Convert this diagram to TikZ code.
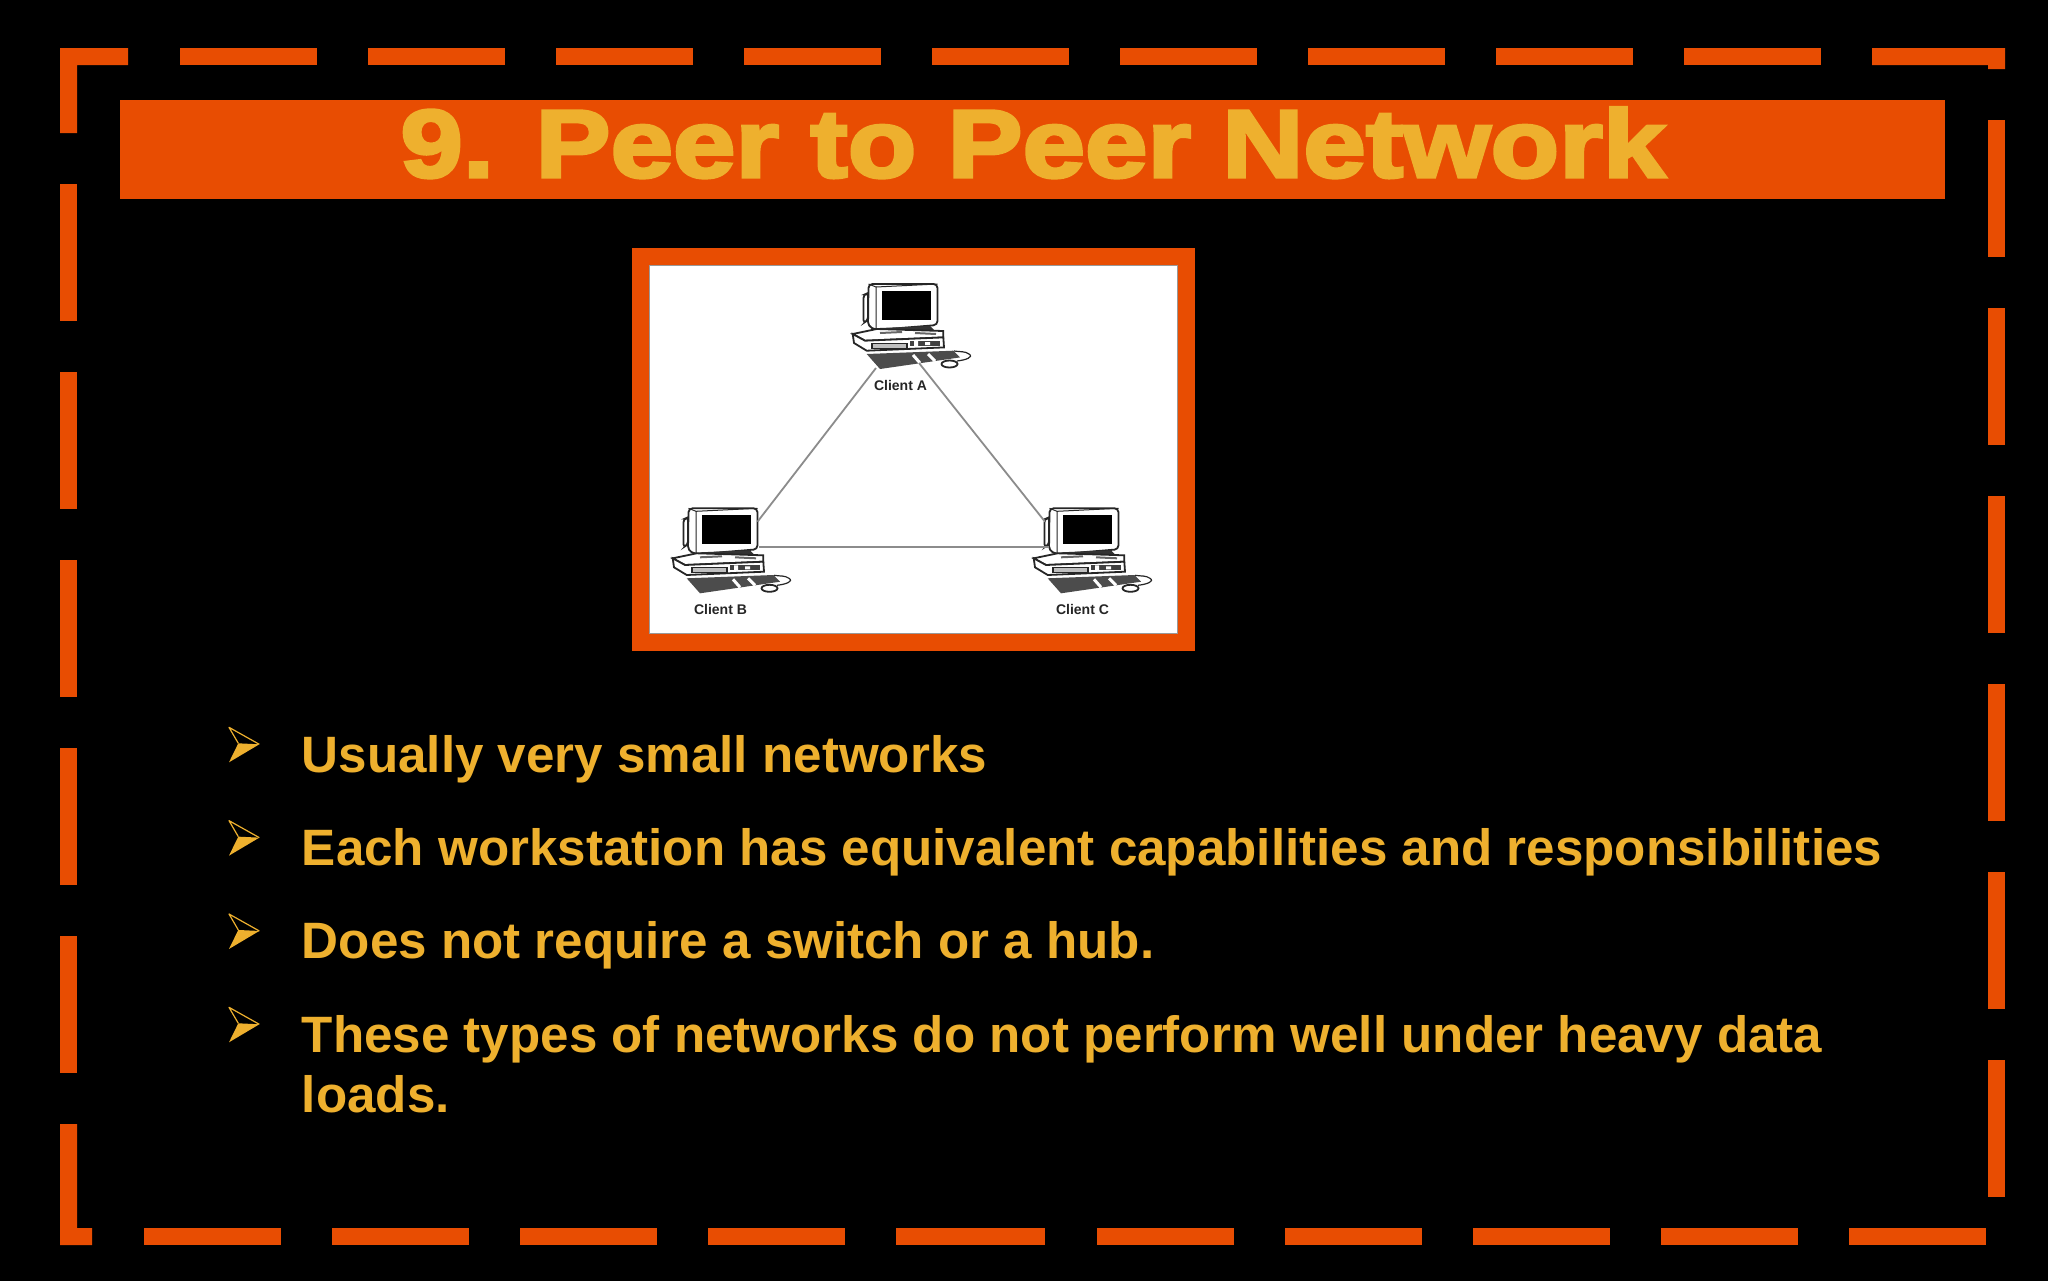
\documentclass[tikz,border=0pt]{standalone}
\usepackage{fontspec}
\setmainfont{Liberation Sans}
\newfontfamily\headfont[BoldFeatures={FakeBold=3.5,FakeStretch=1.17}]{Liberation Sans}
\definecolor{slideorange}{HTML}{E84D02}
\definecolor{slidegold}{HTML}{EEB02E}
\tikzset{
    computer/.pic={
        % monitor
        \draw[pcline,fill=white,rounded corners=1.5] (33.5,25) -- (38,23) -- (38,50) -- (33.5,53) -- cycle;
        \draw[pcline,fill=white,rounded corners=2] (38.5,14) -- (107.5,14) -- (107.5,55) -- (46,60) -- (38,56) -- cycle;
        \draw[pcline,line width=0.5pt] (38.5,14) -- (46,17) -- (46,60);
        \draw[pcline,line width=0.5pt] (46,17) -- (107.5,14);
        \fill[black] (52,21) rectangle (100.5,50);
        \fill[black!80] (50,58) -- (100,56) -- (104,60) -- (46,63) -- cycle;
        % box
        \draw[pcline,fill=white] (22.7,64) -- (46.7,59) -- (113.3,61) -- (113.3,67.4) -- (35,70.7) -- cycle;
        \draw[pcline,fill=white] (22.7,64) -- (35,70.7) -- (113.3,67.4) -- (114,77.4) -- (36.7,80.7) -- (24,73) -- cycle;
        \draw[pcline,line width=0.6pt,fill=black!25] (42,73.5) rectangle (77,78.5);
        \fill[black!75] (80,71) rectangle (110,76);
        \fill[white] (84,71) rectangle (88,76) (95,72) rectangle (100,75);
        \draw[black!60,line width=1pt] (50,63) -- (72,62) (85,63) -- (106,64);
        % keyboard
        \fill[black!70] (36.7,84) -- (123.3,80.7) -- (130,87.4) -- (50,99) -- cycle;
        \draw[white,line width=1.5pt] (83,85) -- (90,93) (98,84) -- (105,91);
        % mouse with its cord
        \draw[pcline,line width=0.6pt] (127,91) .. controls (136,90) and (144,87) .. (139,84) .. controls (135,81) and (130,82) .. (124,81);
        \draw[pcline,fill=white] (119.5,94) ellipse (8 and 3.5);
        \coordinate (-left) at (34,27.4);
        \coordinate (-right) at (107.5,27.4);
        \coordinate (-lowleft) at (38,52.4);
        \coordinate (-lowright) at (109,52.4);
        \coordinate (-downleft) at (46,98);
        \coordinate (-downright) at (89,93);
    }
}
\begin{document}
\begin{tikzpicture}[x=0.5pt,y=-0.5pt,
    pcline/.style={draw=black!85,line width=0.9pt},
    cable/.style={draw=black!45,line width=0.9pt},
    clientname/.style={font=\bfseries\fontsize{7}{8}\selectfont,text=black!85,anchor=base,inner sep=0pt},
    bullettext/.style={font=\bfseries\fontsize{25.57}{30}\selectfont,text=slidegold,anchor=base west,inner sep=0pt}]
    \useasboundingbox (0,0) rectangle (2048,1280);
    \fill[black] (-5,-5) rectangle (2053,1285);
    % dashed frame
    \fill[slideorange] (128,48) -- (60,48) -- (60,133) -- (77,133) -- (77,65) -- (128,65) -- cycle;
    \fill[slideorange] (1872,48) -- (2005,48) -- (2005,69) -- (1988,69) -- (1988,65) -- (1872,65) -- cycle;
    \fill[slideorange] (60,1124) -- (77,1124) -- (77,1228) -- (92,1228) -- (92,1245) -- (60,1245) -- cycle;
    \foreach \i in {0,...,8}
        \fill[slideorange] ({180+188*\i},48) rectangle ++(137,17);
    \foreach \i in {0,...,5}
        \fill[slideorange] (1988,{120+188*\i}) rectangle ++(17,137);
    \foreach \i in {0,...,4}
        \fill[slideorange] (60,{184+188*\i}) rectangle ++(17,137);
    \foreach \i in {144,332,520,708,1097,1285,1473,1661,1849}
        \fill[slideorange] (\i,1228) rectangle ++(137,17);
    \fill[slideorange] (896,1228) rectangle (1045,1245);
    % title
    \fill[slideorange] (119.5,99.5) rectangle (1945,198.5);
    \node[font=\headfont\bfseries\fontsize{48}{50}\selectfont,text=slidegold,anchor=base,inner sep=0pt] (title) at (1033,177) {9. Peer to Peer Network};
    % picture
    \fill[slideorange] (631.5,247.5) rectangle (1194.5,650.5);
    \draw[fill=white,draw=black!40,line width=0.5pt] (649.5,265) rectangle (1177,633);
    \pic (clienta) at (830,270) {computer};
    \pic (clientb) at (650,494.3) {computer};
    \pic (clientc) at (1011,494.3) {computer};
    \node[clientname] (namea) at (900.5,390) {Client A};
    \node[clientname] (nameb) at (720.5,614) {Client B};
    \node[clientname] (namec) at (1082.5,614) {Client C};
    \draw[cable] (clienta-downleft) -- (clientb-right);
    \draw[cable] (clienta-downright) -- (clientc-left);
    \draw[cable] (clientb-lowright) -- (clientc-lowleft);
    % bullets
    \foreach \n/\y/\line in {one/0/Usually very small networks,
            two/1/Each workstation has equivalent capabilities and responsibilities,
            three/2/Does not require a switch or a hub.,
            four/3/These types of networks do not perform well under heavy data} {
        \begin{scope}[yshift={-0.5pt*93.33*\y}]
            \draw[slidegold,line width=0.6pt,line join=round] (238.3,743.3) -- (229,727.3) -- (259.3,744.3);
            \fill[slidegold] (238.3,743.3) -- (259.3,744.3) -- (229,762.3) -- cycle;
        \end{scope}
        \node[bullettext] (\n) at (301.5,{772+93.33*\y}) {\line};
    }
    \node[bullettext] (fourb) at (301.5,1112.5) {loads.};
\end{tikzpicture}
\end{document}
